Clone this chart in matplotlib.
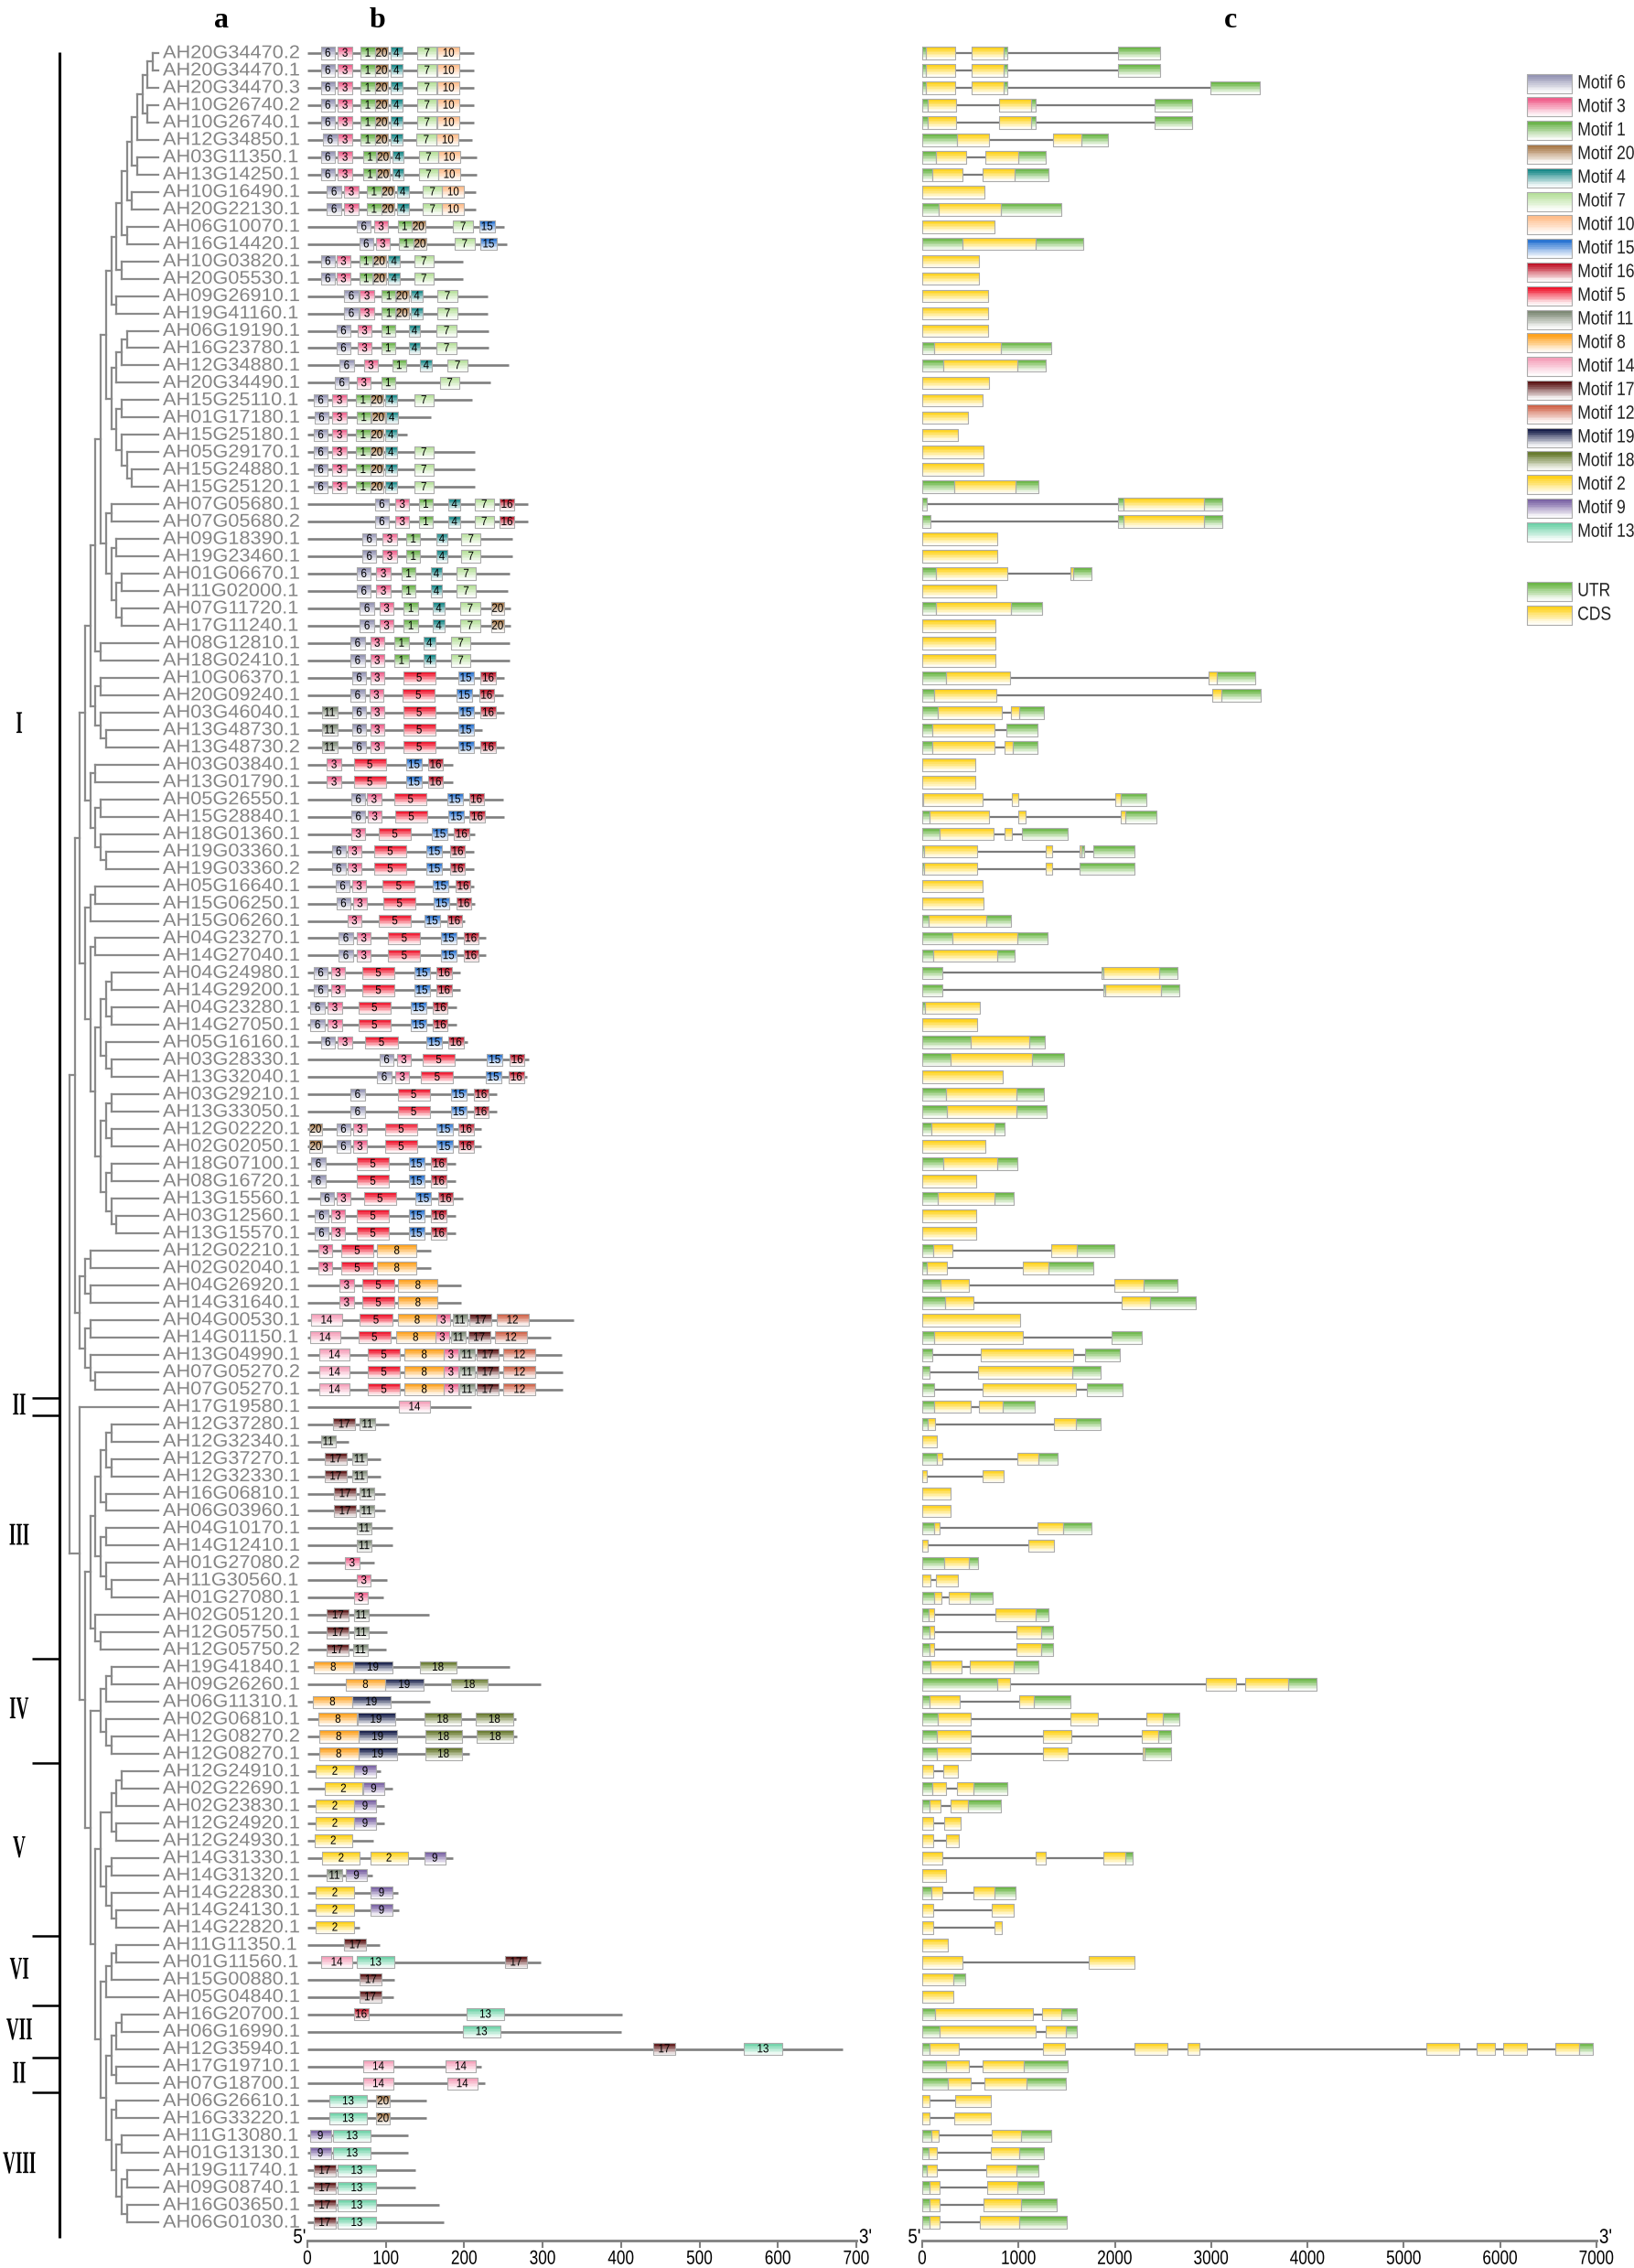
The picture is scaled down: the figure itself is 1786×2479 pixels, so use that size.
import numpy as np
import matplotlib
matplotlib.use("Agg")
import matplotlib.pyplot as plt
import matplotlib.patheffects as pe
from matplotlib.collections import PolyCollection, LineCollection
from matplotlib.colors import to_rgb
from matplotlib.transforms import Affine2D
from matplotlib.textpath import TextPath
from matplotlib.font_manager import FontProperties

plt.rcParams['font.family'] = ['Liberation Sans', 'DejaVu Sans']

# ---------------- data ----------------
genes = [
    "AH20G34470.2", "AH20G34470.1", "AH20G34470.3", "AH10G26740.2", "AH10G26740.1",
    "AH12G34850.1", "AH03G11350.1", "AH13G14250.1", "AH10G16490.1", "AH20G22130.1",
    "AH06G10070.1", "AH16G14420.1", "AH10G03820.1", "AH20G05530.1", "AH09G26910.1",
    "AH19G41160.1", "AH06G19190.1", "AH16G23780.1", "AH12G34880.1", "AH20G34490.1",
    "AH15G25110.1", "AH01G17180.1", "AH15G25180.1", "AH05G29170.1", "AH15G24880.1",
    "AH15G25120.1", "AH07G05680.1", "AH07G05680.2", "AH09G18390.1", "AH19G23460.1",
    "AH01G06670.1", "AH11G02000.1", "AH07G11720.1", "AH17G11240.1", "AH08G12810.1",
    "AH18G02410.1", "AH10G06370.1", "AH20G09240.1", "AH03G46040.1", "AH13G48730.1",
    "AH13G48730.2", "AH03G03840.1", "AH13G01790.1", "AH05G26550.1", "AH15G28840.1",
    "AH18G01360.1", "AH19G03360.1", "AH19G03360.2", "AH05G16640.1", "AH15G06250.1",
    "AH15G06260.1", "AH04G23270.1", "AH14G27040.1", "AH04G24980.1", "AH14G29200.1",
    "AH04G23280.1", "AH14G27050.1", "AH05G16160.1", "AH03G28330.1", "AH13G32040.1",
    "AH03G29210.1", "AH13G33050.1", "AH12G02220.1", "AH02G02050.1", "AH18G07100.1",
    "AH08G16720.1", "AH13G15560.1", "AH03G12560.1", "AH13G15570.1", "AH12G02210.1",
    "AH02G02040.1", "AH04G26920.1", "AH14G31640.1", "AH04G00530.1", "AH14G01150.1",
    "AH13G04990.1", "AH07G05270.2", "AH07G05270.1", "AH17G19580.1", "AH12G37280.1",
    "AH12G32340.1", "AH12G37270.1", "AH12G32330.1", "AH16G06810.1", "AH06G03960.1",
    "AH04G10170.1", "AH14G12410.1", "AH01G27080.2", "AH11G30560.1", "AH01G27080.1",
    "AH02G05120.1", "AH12G05750.1", "AH12G05750.2", "AH19G41840.1", "AH09G26260.1",
    "AH06G11310.1", "AH02G06810.1", "AH12G08270.2", "AH12G08270.1", "AH12G24910.1",
    "AH02G22690.1", "AH02G23830.1", "AH12G24920.1", "AH12G24930.1", "AH14G31330.1",
    "AH14G31320.1", "AH14G22830.1", "AH14G24130.1", "AH14G22820.1", "AH11G11350.1",
    "AH01G11560.1", "AH15G00880.1", "AH05G04840.1", "AH16G20700.1", "AH06G16990.1",
    "AH12G35940.1", "AH17G19710.1", "AH07G18700.1", "AH06G26610.1", "AH16G33220.1",
    "AH11G13080.1", "AH01G13130.1", "AH19G11740.1", "AH09G08740.1", "AH16G03650.1",
    "AH06G01030.1",
]

# protein lengths (aa)
protein_len = [
    212, 212, 212, 212, 212, 210, 216, 216, 215, 215,
    251, 254, 198, 198, 230, 230, 231, 231, 257, 233,
    210, 158, 127, 213, 213, 213, 281, 281, 261, 261,
    258, 256, 259, 259, 258, 258, 251, 250, 251, 223,
    251, 186, 186, 250, 251, 213, 212, 212, 212, 213,
    201, 227, 227, 195, 195, 190, 190, 204, 282, 280,
    242, 242, 222, 222, 189, 189, 198, 189, 189, 157,
    157, 196, 196, 340, 310, 324, 326, 325, 209, 104,
    53, 93, 93, 99, 99, 109, 109, 85, 102, 97,
    155, 102, 100, 258, 298, 156, 266, 267, 207, 93,
    109, 98, 98, 84, 186, 83, 115, 117, 67, 92,
    297, 111, 110, 401, 400, 682, 222, 226, 152, 152,
    128, 128, 138, 138, 168, 174,
]

motif_width = {1: 18, 2: 48, 3: 18, 4: 15, 5: 41, 6: 18, 7: 25, 8: 50, 9: 27, 10: 28,
               11: 19, 12: 41, 13: 48, 14: 39, 15: 20, 16: 19, 17: 28, 18: 47, 19: 49, 20: 17}

motif_color = {6: '#9494b4', 3: '#f0608c', 1: '#6cb44c', 20: '#a87848', 4: '#178888',
               7: '#b6e09a', 10: '#ffbe8c', 15: '#2a74d2', 16: '#c01428', 5: '#f0142c',
               11: '#7c8874', 8: '#ffa21e', 14: '#f5a0ba', 17: '#5a1212', 12: '#d0644a',
               19: '#141c48', 18: '#687a2e', 2: '#ffd21a', 9: '#7a62a4', 13: '#6ed2a8'}
legend_order = [6, 3, 1, 20, 4, 7, 10, 15, 16, 5, 11, 8, 14, 17, 12, 19, 18, 2, 9, 13]
utr_color = '#6ab645'
cds_color = '#ffd21a'

# motif (number, start aa) per gene
A1 = [(6, 17), (3, 39), (1, 68), (20, 86), (4, 106), (7, 140), (10, 166)]
A7 = [(6, 17), (3, 39), (1, 71), (20, 88), (4, 108), (7, 142), (10, 167)]
A9 = [(6, 25), (3, 47), (1, 76), (20, 94), (4, 114), (7, 147), (10, 172)]
A13 = [(6, 17), (3, 37), (1, 66), (20, 83), (4, 103), (7, 136)]
A15 = [(6, 47), (3, 67), (1, 95), (20, 112), (4, 132), (7, 166)]
A17 = [(6, 37), (3, 64), (1, 94), (4, 129), (7, 165)]
A21 = [(6, 8), (3, 32), (1, 62), (20, 80), (4, 99), (7, 136)]
A27 = [(6, 86), (3, 112), (1, 142), (4, 180), (7, 213), (16, 245)]
A29 = [(6, 70), (3, 96), (1, 126), (4, 164), (7, 196)]
A31 = [(6, 63), (3, 88), (1, 120), (4, 157), (7, 190)]
A33 = [(6, 67), (3, 92), (1, 123), (4, 160), (7, 195), (20, 234)]
A35 = [(6, 55), (3, 80), (1, 111), (4, 148), (7, 183)]
A39 = [(11, 19), (6, 57), (3, 80), (5, 122), (15, 192), (16, 221)]
A42 = [(3, 25), (5, 59), (15, 126), (16, 154)]
A47 = [(6, 31), (3, 51), (5, 85), (15, 152), (16, 182)]
A52 = [(6, 40), (3, 63), (5, 103), (15, 170), (16, 199)]
A54 = [(6, 8), (3, 30), (5, 70), (15, 136), (16, 165)]
A56 = [(6, 4), (3, 26), (5, 65), (15, 132), (16, 160)]
A61 = [(6, 55), (5, 115), (15, 183), (16, 212)]
A63 = [(20, 2), (6, 37), (3, 58), (5, 99), (15, 165), (16, 193)]
A65 = [(6, 5), (5, 63), (15, 129), (16, 158)]
A68 = [(6, 9), (3, 30), (5, 63), (15, 129), (16, 158)]
A70 = [(3, 14), (5, 43), (8, 89)]
A72 = [(3, 41), (5, 70), (8, 116)]
A76 = [(14, 15), (5, 77), (8, 124), (3, 174), (11, 194), (17, 216), (12, 250)]
A82 = [(17, 22), (11, 57)]
A84 = [(17, 34), (11, 66)]

motifs = [
    A1, A1, A1, A1, A1,                                                   # 1-5
    [(6, 20), (3, 39), (1, 68), (20, 86), (4, 106), (7, 139), (10, 165)], # 6
    A7, A7, A9, A9,                                                       # 7-10
    [(6, 63), (3, 85), (1, 115), (20, 133), (7, 186), (15, 219)],         # 11
    [(6, 66), (3, 87), (1, 117), (20, 135), (7, 188), (15, 221)],         # 12
    A13, A13, A15, A15, A17, A17,                                         # 13-18
    [(6, 41), (3, 72), (1, 108), (4, 144), (7, 179)],                     # 19
    [(6, 35), (3, 63), (1, 94), (7, 169)],                                # 20
    A21,                                                                  # 21
    [(6, 9), (3, 32), (1, 63), (20, 82), (4, 100)],                       # 22
    [(6, 8), (3, 32), (1, 62), (20, 80), (4, 99)],                        # 23
    A21, A21, A21,                                                        # 24-26
    A27, A27, A29, A29, A31, A31, A33, A33, A35, A35,                     # 27-36
    [(6, 57), (3, 80), (5, 122), (15, 192), (16, 221)],                   # 37
    [(6, 55), (3, 79), (5, 121), (15, 190), (16, 219)],                   # 38
    A39,                                                                  # 39
    [(11, 19), (6, 57), (3, 80), (5, 122), (15, 192)],                    # 40
    A39, A42, A42,                                                        # 41-43
    [(6, 56), (3, 76), (5, 111), (15, 178), (16, 206)],                   # 44
    [(6, 56), (3, 77), (5, 112), (15, 180), (16, 207)],                   # 45
    [(3, 56), (5, 91), (15, 159), (16, 187)],                             # 46
    A47, A47,                                                             # 47-48
    [(6, 36), (3, 57), (5, 96), (15, 160), (16, 189)],                    # 49
    [(6, 37), (3, 58), (5, 97), (15, 161), (16, 190)],                    # 50
    [(3, 51), (5, 91), (15, 149), (16, 178)],                             # 51
    A52, A52, A54, A54, A56, A56,                                         # 52-57
    [(6, 17), (3, 39), (5, 74), (15, 152), (16, 180)],                    # 58
    [(6, 92), (3, 114), (5, 147), (15, 229), (16, 258)],                  # 59
    [(6, 89), (3, 112), (5, 145), (15, 227), (16, 257)],                  # 60
    A61, A61, A63, A63, A65, A65,                                         # 61-66
    [(6, 16), (3, 37), (5, 72), (15, 138), (16, 167)],                    # 67
    A68, A68, A70, A70, A72, A72,                                         # 68-73
    [(14, 5), (5, 67), (8, 115), (3, 164), (11, 185), (17, 207), (12, 241)],   # 74
    [(14, 3), (5, 65), (8, 113), (3, 163), (11, 183), (17, 205), (12, 239)],   # 75
    A76, A76, A76,                                                        # 76-78
    [(14, 117)],                                                          # 79
    [(17, 33), (11, 67)],                                                 # 80
    [(11, 17)],                                                           # 81
    A82, A82, A84, A84,                                                   # 82-85
    [(11, 63)], [(11, 63)],                                               # 86-87
    [(3, 48)], [(3, 63)], [(3, 59)],                                      # 88-90
    [(17, 25), (11, 59)], [(17, 25), (11, 59)], [(17, 24), (11, 58)],     # 91-93
    [(8, 8), (19, 59), (18, 143)],                                        # 94
    [(8, 49), (19, 99), (18, 183)],                                       # 95
    [(8, 7), (19, 57)],                                                   # 96
    [(8, 14), (19, 63), (18, 149), (18, 215)],                            # 97
    [(8, 15), (19, 65), (18, 150), (18, 216)],                            # 98
    [(8, 15), (19, 65), (18, 150)],                                       # 99
    [(2, 11), (9, 60)],                                                   # 100
    [(2, 22), (9, 71)],                                                   # 101
    [(2, 11), (9, 60)], [(2, 11), (9, 60)],                               # 102-103
    [(2, 9)],                                                             # 104
    [(2, 19), (2, 80), (9, 149)],                                         # 105
    [(11, 25), (9, 49)],                                                  # 106
    [(2, 11), (9, 81)], [(2, 11), (9, 81)],                               # 107-108
    [(2, 11)],                                                            # 109
    [(17, 47)],                                                           # 110
    [(14, 18), (13, 63), (17, 252)],                                      # 111
    [(17, 67)], [(17, 66)],                                               # 112-113
    [(16, 59), (13, 203)],                                                # 114
    [(13, 198)],                                                          # 115
    [(17, 441), (13, 557)],                                               # 116
    [(14, 71), (14, 176)], [(14, 71), (14, 178)],                         # 117-118
    [(13, 28), (20, 88)], [(13, 28), (20, 88)],                           # 119-120
    [(9, 3), (13, 33)], [(9, 3), (13, 33)],                               # 121-122
    [(17, 8), (13, 39)], [(17, 8), (13, 39)],                             # 123-124
    [(17, 8), (13, 39)], [(17, 8), (13, 39)],                             # 125-126
]

# gene structures: U = UTR, C = CDS (bp), exons separated by |
structures = [
    "U0-38 C38-346|C515-843 U843-881|U2036-2474",
    "U0-38 C38-346|C515-843 U843-881|U2036-2474",
    "U0-38 C38-346|C515-843 U843-881|U2992-3503",
    "U0-58 C58-356|C799-1135 U1135-1174|U2415-2800",
    "U0-58 C58-356|C799-1135 U1135-1174|U2415-2800",
    "U0-361 C361-698|C1362-1655 U1655-1929",
    "U0-140 C140-452|C659-996 U996-1280",
    "U0-106 C106-414|C625-957 U957-1313",
    "C0-645",
    "U0-173 C173-813 U813-1448",
    "C0-751",
    "U0-419 C419-1179 U1179-1669",
    "C0-592", "C0-592", "C0-683", "C0-683", "C0-683",
    "U0-125 C125-813 U813-1337",
    "U0-221 C221-991 U991-1280",
    "C0-693", "C0-630", "C0-471", "C0-375", "C0-640", "C0-640",
    "U0-332 C332-972 U972-1203",
    "U0-43|U2036-2088 C2088-2925 U2925-3113",
    "U0-82|U2036-2088 C2088-2925 U2925-3113",
    "C0-779", "C0-779",
    "U0-144 C144-885|C1540-1568 U1568-1756",
    "C0-765",
    "U0-144 C144-919 U919-1241",
    "C0-760", "C0-760", "C0-760",
    "U0-245 C245-909|C2973-3060 U3060-3454",
    "U0-120 C120-770|C3012-3103 U3103-3512",
    "U0-164 C164-823|C919-1006 U1006-1260",
    "U0-101 C101-755|U876-1198",
    "U0-101 C101-755|C852-943 U943-1198",
    "C0-553", "C0-553",
    "U0-14 C14-630|C929-1001|C2006-2064 U2064-2324",
    "U0-77 C77-693|C1001-1073|C2059-2112 U2112-2434",
    "U0-178 C178-741|C856-933|U1034-1506",
    "U0-19 C19-568|C1285-1352|C1636-1655 U1655-1684|U1775-2199",
    "U0-19 C19-568|C1285-1352|U1636-2199",
    "C0-630", "C0-635",
    "U0-67 C67-664 U664-924",
    "U0-318 C318-991 U991-1299",
    "U0-111 C111-779 U779-957",
    "U0-207|U1862-1882 C1882-2463 U2463-2651",
    "U0-212|U1882-1901 C1901-2483 U2483-2670",
    "U0-29 C29-597",
    "C0-568",
    "U0-505 C505-1116 U1116-1275",
    "U0-293 C293-1140 U1140-1472",
    "C0-832",
    "U0-250 C250-977 U977-1260",
    "U0-255 C255-981 U981-1294",
    "U0-91 C91-751 U751-856",
    "C0-659",
    "U0-217 C217-779 U779-986",
    "C0-563",
    "U0-164 C164-751 U751-953",
    "C0-563", "C0-563",
    "U0-111 C111-318|C1342-1607 U1607-1997",
    "U0-48 C48-255|C1049-1309 U1309-1780",
    "U0-192 C192-481|C1992-2295 U2295-2646",
    "U0-241 C241-529|C2069-2367 U2367-2838",
    "C0-1020",
    "U0-125 C125-1044|U1968-2280",
    "U0-101|C606-1568|U1689-2050",
    "U0-77|C582-1559 U1559-1852",
    "U0-120|C625-1592|U1708-2083",
    "U0-125 C125-500|C592-832 U832-1164",
    "U0-58 C58-135|C1371-1597 U1597-1852",
    "C0-154",
    "U0-154 C154-207|C991-1208 U1208-1405",
    "C0-48|C625-847",
    "C0-293", "C0-293",
    "U0-125 C125-183|C1198-1463 U1463-1761",
    "C0-58|C1102-1371",
    "U0-231 C231-486 U486-577",
    "C0-82|C144-370",
    "U0-120 C120-197|C279-491 U491-736",
    "U0-63 C63-120|C760-1179 U1179-1313",
    "U0-72 C72-125|C977-1236 U1236-1362",
    "U0-72 C72-125|C982-1236 U1236-1362",
    "U0-82 C82-404|C496-948 U948-1208",
    "U0-775 C775-909|C2944-3262|C3353-3801 U3801-4089",
    "U0-72 C72-394|C1010-1155 U1155-1540",
    "U0-159 C159-501|C1540-1828|C2329-2502 U2502-2670",
    "U0-154 C154-501|C1256-1549|C2280-2449 U2449-2584",
    "U0-154 C154-501|C1256-1511|C2285-2304 U2304-2584",
    "C0-115|C216-375",
    "U0-101 C101-250|C361-534 U534-885",
    "U0-72 C72-188|C298-471 U471-818",
    "C0-115|C226-399",
    "C0-111|C245-380",
    "C0-212|C1174-1280|C1881-2107 U2107-2189",
    "C0-245",
    "U0-91 C91-207|C529-755 U755-972",
    "C0-115|C722-953",
    "C0-115|C746-823",
    "C0-269",
    "C0-414|C1732-2203",
    "C0-327 U327-447",
    "C0-327",
    "U0-135 C135-1145|C1246-1439 U1439-1607",
    "U0-183 C183-1179|C1285-1492 U1492-1602",
    "U0-77 C77-380|C1251-1482|C2199-2545|C2757-2882|C5230-5571|C5754-5941|C6032-6282|C6576-6821 U6821-6961",
    "U0-250 C250-486|C630-1058 U1058-1506",
    "U0-265 C265-500|C645-1083 U1083-1491",
    "C0-77|C342-717",
    "C0-77|C337-712",
    "U0-91 C91-173|C726-1025 U1025-1342",
    "U0-67 C67-149|C712-1010 U1010-1260",
    "U0-43 C43-149|C669-977 U977-1208",
    "U0-77 C77-178|C678-986 U986-1260",
    "U0-77 C77-178|C635-1025 U1025-1395",
    "U0-77 C77-178|C597-1006 U1006-1496",
]

# tree: [node level, child, child, ...]; leaves are gene row numbers
L5 = [13, [14, [15, [16, 1, 2], 3], [15, 4, 5]], 6]
L4 = [12, L5, [13, 7, 8]]
L3 = [11, L4, [12, 9, 10]]
L2 = [10, L3, [11, 11, 12]]
L1 = [9, L2, [10, 13, 14]]
L0 = [8, L1, [9, 15, 16]]
G17 = [8, [9, [10, [11, 17, 18], 19], 20], [9, [10, 21, 22], [10, 23, [11, 24, [12, 25, 26]]]]]
G27 = [7, [8, 27, 28], [8, [9, 29, 30], [9, [10, 31, 32], [10, 33, 34]]]]
G1 = [5, [6, [7, L0, G17], G27], [6, 35, 36]]
G2 = [5, [6, 37, 38], [6, 39, [7, 40, 41]]]
G3 = [4, [5, 42, 43], [5, [6, 44, 45], [6, 46, [7, 47, 48]]]]
G4 = [3, [4, [5, 49, 50], 51],
      [4, [5, 52, 53], [5, [6, [7, [8, 54, 55], [8, 56, 57]], [7, 58, [8, 59, 60]]],
                        [6, [7, [8, 61, 62], [8, 63, 64]], [7, [8, 65, 66], [8, 67, [9, 68, 69]]]]]]]
G5 = [2, [3, [4, 70, 71], [4, 72, 73]], [3, [4, 74, 75], [4, 76, [5, 77, 78]]]]
clade1 = [1, [2, [3, [4, G1, G2], G3], G4], G5]
III = [4, [5, [6, [7, [8, 80, 81], [8, 82, 83]], [7, 84, 85]], [6, [7, 86, 87], [7, 88, [8, 89, 90]]]],
      [5, 91, [6, 92, 93]]]
IV = [6, [7, [8, 94, 95], 96], [7, 97, [8, 98, 99]]]
V = [6, [8, [9, [10, 100, 101], 102], [9, 103, 104]], [7, [8, 105, 106], [8, 107, [9, 108, 109]]]]
VI = [7, [8, [9, 110, 111], 112], 113]
VII_II = [8, [9, [10, 114, 115], 116], [9, 117, 118]]
VIII = [8, [9, 119, 120], [9, [10, 121, 122], [10, [11, 123, 124], [11, 125, 126]]]]
rest = [2, 79, [3, III, [4, IV, [5, V, [6, VI, [7, VII_II, VIII]]]]]]
tree = [0, clade1, rest]
LEAF_LEVEL = 17

clade_labels = ['I', 'II', 'III', 'IV', 'V', 'VI', 'VII', 'II', 'VIII']
clade_edges = [0.95, 78.5, 79.5, 93.5, 99.5, 109.5, 113.5, 116.5, 118.5, 126.9]


# ---------------- helpers ----------------
class Squeeze(pe.AbstractPathEffect):
    """draw text horizontally condensed / widened"""
    def __init__(self, sx, anchor='center'):
        super().__init__()
        self.sx = sx
        self.anchor = anchor

    def draw_path(self, renderer, gc, tpath, affine, rgbFace=None):
        ext = tpath.get_extents()
        if self.anchor == 'left':
            ox = ext.x0
        elif self.anchor == 'right':
            ox = ext.x1
        else:
            ox = 0.5 * (ext.x0 + ext.x1)
        sq = Affine2D().translate(-ox, 0).scale(self.sx, 1).translate(ox, 0)
        renderer.draw_path(gc, tpath, sq + affine, rgbFace)


def add_box(verts, cols, outl, x0, x1, yc, h, color, n=9):
    c = np.array(to_rgb(color))
    top = yc - h / 2
    for k in range(n):
        t = (k + 0.5) / n
        w = np.clip((t - 0.12) / 0.8, 0, 1) * 0.96
        ya, yb = top + k * h / n, top + (k + 1) * h / n
        verts.append([(x0, ya), (x1, ya), (x1, yb), (x0, yb)])
        cols.append(tuple(c * (1 - w) + w))
    outl.append([(x0, top), (x1, top), (x1, top + h), (x0, top + h)])


def put_boxes(ax, verts, cols, outl):
    ax.add_collection(PolyCollection(verts, facecolors=cols, edgecolors='none',
                                     linewidths=0, antialiaseds=False, zorder=3))
    ax.add_collection(PolyCollection(outl, facecolors='none', edgecolors='#ababab',
                                     linewidths=0.8, zorder=4))


def parse_structure(s):
    exons = []
    for ex in s.split('|'):
        parts = []
        for tok in ex.split():
            a, b = tok[1:].split('-')
            parts.append((tok[0], float(a), float(b)))
        exons.append(parts)
    return exons


# ---------------- figure ----------------
W, H = 1786, 2479
ROW0, STEP = 58.0, 18.97
TOP, BOT = 40.0, 2449.0
r_top = 1 + (TOP - ROW0) / STEP
r_bot = 1 + (BOT - ROW0) / STEP

fig = plt.figure(figsize=(W / 100, H / 100), dpi=100)


def px_axes(x0, x1, y0=TOP, y1=BOT):
    ax = fig.add_axes([x0 / W, 1 - y1 / H, (x1 - x0) / W, (y1 - y0) / H])
    ax.set_ylim(r_bot, r_top)
    ax.patch.set_alpha(0)
    return ax


rows = np.arange(1, len(genes) + 1)

# ---- tree ----
ax_tree = px_axes(76, 172.7)
ax_tree.set_xlim(0, LEAF_LEVEL)
ax_tree.axis('off')
tree_segs = []


def place(node):
    if isinstance(node, int):
        return LEAF_LEVEL, float(node)
    lev, kids = node[0], node[1:]
    pts = [place(k) for k in kids]
    ys = [p[1] for p in pts]
    tree_segs.append([(lev, ys[0]), (lev, ys[-1])])
    for cx, cy in pts:
        tree_segs.append([(lev, cy), (cx, cy)])
    return lev, (ys[0] + ys[-1]) / 2


place(tree)
ax_tree.add_collection(LineCollection(tree_segs, colors='#8a8a8a', linewidths=1.6,
                                      clip_on=False, capstyle='projecting'))

# ---- names and clade brackets ----
ax_lab = px_axes(0, 336)
ax_lab.set_xlim(0, 336)
ax_lab.axis('off')
for r, name in zip(rows, genes):
    ax_lab.text(178, r, name, fontsize=14.5, color='#858585', ha='left', va='center',
                path_effects=[Squeeze(1.08, 'left')])

ax_lab.plot([65, 65], [clade_edges[0], clade_edges[-1]], color='black', lw=2.2,
            solid_capstyle='butt', clip_on=False)
for e in clade_edges[1:-1]:
    ax_lab.plot([35, 65], [e, e], color='black', lw=1.8, solid_capstyle='butt', clip_on=False)

roman_fp = FontProperties(family='Liberation Serif', weight='bold', size=25)
ROMAN_SX = 0.55
for lab, a, b in zip(clade_labels, clade_edges[:-1], clade_edges[1:]):
    ext = TextPath((0, 0), lab, prop=roman_fp).get_extents()
    ink0, inkw = ext.x0 * 100 / 72, ext.width * 100 / 72
    left = 21 - ink0 - ROMAN_SX * inkw / 2
    ax_lab.text(left, (a + b) / 2, lab, fontproperties=roman_fp, ha='left', va='center',
                color='black', path_effects=[Squeeze(ROMAN_SX, 'left')])

# ---- motif panel ----
axm = px_axes(336, 936)
axm.set_xlim(0, 700)
axm.add_collection(LineCollection([[(0, r), (L, r)] for r, L in zip(rows, protein_len)],
                                  colors='#7f7f7f', linewidths=1.9, zorder=2))
mv, mc, mo = [], [], []
for r, mlist in zip(rows, motifs):
    for m, s in mlist:
        w = motif_width[m]
        add_box(mv, mc, mo, s, s + w, r, 0.70, motif_color[m])
        axm.text(s + w / 2, r + 0.04, str(m), fontsize=9.5, ha='center', va='center',
                 color='black', zorder=5, path_effects=[Squeeze(0.88)])
put_boxes(axm, mv, mc, mo)

# ---- gene structure panel ----
axs = px_axes(1008, 1745)
axs.set_xlim(0, 7000)
sv, sc, so = [], [], []
intr = []
for r, s in zip(rows, structures):
    exons = parse_structure(s)
    if len(exons) > 1:
        intr.append([(exons[0][0][1], r), (exons[-1][-1][2], r)])
    for ex in exons:
        for kind, a, b in ex:
            add_box(sv, sc, so, a, b, r, 0.72, utr_color if kind == 'U' else cds_color)
axs.add_collection(LineCollection(intr, colors='#7a7a7a', linewidths=1.6, zorder=2))
put_boxes(axs, sv, sc, so)

# ---- axes styling ----
for ax, ticks in ((axm, range(0, 701, 100)), (axs, range(0, 7001, 1000))):
    for side in ('left', 'top', 'right'):
        ax.spines[side].set_visible(False)
    ax.spines['bottom'].set_color('#808080')
    ax.spines['bottom'].set_linewidth(2)
    ax.set_yticks([])
    ax.set_xticks(list(ticks))
    ax.tick_params(axis='x', length=6, width=1.5, color='#808080', labelsize=15.5,
                   pad=1, labelcolor='black')
    for lab in ax.get_xticklabels():
        lab.set_path_effects([Squeeze(0.8)])
    ax.annotate("5'", xy=(0, 0), xycoords='axes fraction', xytext=(-1, 2),
                textcoords='offset points', ha='right', va='center', fontsize=16,
                path_effects=[Squeeze(0.85, 'right')])
    ax.annotate("3'", xy=(1, 0), xycoords='axes fraction', xytext=(2, 2),
                textcoords='offset points', ha='left', va='center', fontsize=16,
                path_effects=[Squeeze(0.85, 'left')])

# ---- legend ----
ax_leg = fig.add_axes([1650 / W, 1 - 700 / H, 136 / W, 660 / H])
ax_leg.set_xlim(1650, 1786)
ax_leg.set_ylim(700, 40)
ax_leg.axis('off')
lv, lc, lo = [], [], []
leg_items = [('Motif %d' % m, motif_color[m], 91 + j * 25.8) for j, m in enumerate(legend_order)]
leg_items += [('UTR', utr_color, 646), ('CDS', cds_color, 672)]
for lab, col, yc in leg_items:
    add_box(lv, lc, lo, 1669, 1718, yc, 21, col, n=12)
    ax_leg.text(1724, yc, lab, fontsize=15, ha='left', va='center', color='#222222',
                clip_on=False, path_effects=[Squeeze(0.84, 'left')])
put_boxes(ax_leg, lv, lc, lo)

# ---- panel letters ----
for lab, x in (('a', 242), ('b', 412), ('c', 1345)):
    fig.text(x / W, 1 - 22 / H, lab, fontsize=23, fontweight='bold', family='Liberation Serif',
             ha='center', va='center')

fig.savefig('out.png', dpi=100)
